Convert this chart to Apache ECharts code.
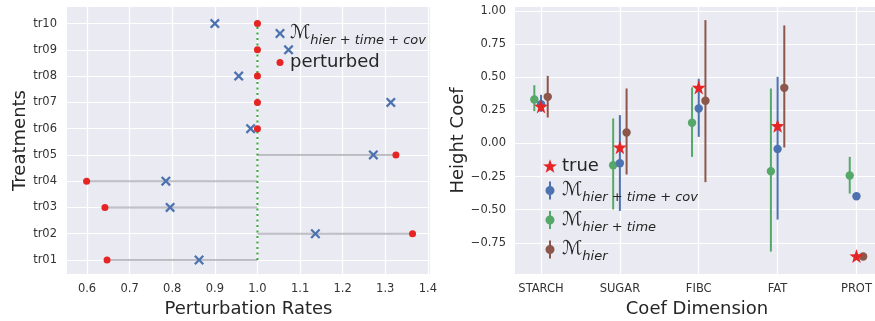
<!DOCTYPE html>
<html>
<head>
<meta charset="utf-8">
<script src="https://cdn.jsdelivr.net/npm/echarts@6/dist/echarts.min.js"></script>
<style>
html,body{margin:0;padding:0;background:#fff;}
#c{width:875px;height:321px;}
</style>
</head>
<body>
<div id="c"></div>
<script>
// ---------- Left panel data ----------
const treatments = ['tr01','tr02','tr03','tr04','tr05','tr06','tr07','tr08','tr09','tr10'];
const perturbedRates = [0.647, 1.364, 0.642, 0.599, 1.325, 1.0, 1.0, 1.0, 1.0, 1.0];
const hierTimeCovRates = [0.863, 1.136, 0.795, 0.785, 1.272, 0.984, 1.313, 0.956, 1.073, 0.900];
const baseRate = 1.0;
const rateTicks = [0.6, 0.7, 0.8, 0.9, 1.0, 1.1, 1.2, 1.3, 1.4];

// ---------- Right panel data ----------
const coefDims = ['STARCH','SUGAR','FIBC','FAT','PROT'];
const trueCoef = [0.28, -0.028, 0.423, 0.133, -0.85];
const covMean = [0.297, -0.149, 0.264, -0.041, -0.398];
const covLow  = [0.239, -0.509, 0.050, -0.574, -0.408];
const covHigh = [0.367, 0.214, 0.488, 0.503, -0.390];
const timeMean = [0.332, -0.164, 0.156, -0.209, -0.242];
const timeLow  = [0.244, -0.498, -0.101, -0.816, -0.378];
const timeHigh = [0.440, 0.189, 0.423, 0.415, -0.101];
const hierMean = [0.352, 0.083, 0.322, 0.420, -0.853];
const hierLow  = [0.196, -0.234, -0.292, -0.030, -0.862];
const hierHigh = [0.510, 0.415, 0.931, 0.891, -0.845];
const coefTicks = [-0.75, -0.5, -0.25, 0, 0.25, 0.5, 0.75, 1.0];

const BLUE = '#4C72B0', GREEN = '#55A868', BROWN = '#8C564B', RED = '#E62424';
const TXT = '#333333';
const FONT = 'DejaVu Sans';

const xPath = 'path://M0,1.6 L1.6,0 L5,3.4 L8.4,0 L10,1.6 L6.6,5 L10,8.4 L8.4,10 L5,6.6 L1.6,10 L0,8.4 L3.4,5 Z';
const dotPath = 'path://M0,0 M10,10 M1.5,5 A3.5,3.5 0 1 1 8.5,5 A3.5,3.5 0 1 1 1.5,5 Z';
const starPath = 'path://M10,0 L12.351,6.764 L19.511,6.910 L13.804,11.236 L15.878,18.090 L10,14 L4.122,18.090 L6.196,11.236 L0.489,6.910 L7.649,6.764 Z';
const ebPath = 'path://M3.5,0 h2 v18 h-2 z M0,9 a4.5,4.5 0 1 1 9,0 a4.5,4.5 0 1 1 -9,0 z';

const chart = echarts.init(document.getElementById('c'));

function errSeries(name, color, offset, mean, low, high) {
  return {
    name: name, type: 'custom', xAxisIndex: 1, yAxisIndex: 1, z: 3,
    itemStyle: {color: color, opacity: 1},
    encode: {x: 0, y: 1},
    data: coefDims.map((d, i) => [i + offset, mean[i], low[i], high[i]]),
    renderItem: function (params, api) {
      const x = api.value(0);
      const p = api.coord([x, api.value(1)]);
      const lo = api.coord([x, api.value(2)]);
      const hi = api.coord([x, api.value(3)]);
      return {
        type: 'group',
        children: [
          {type: 'line', shape: {x1: lo[0], y1: lo[1], x2: hi[0], y2: hi[1]},
           style: {stroke: color, lineWidth: 2}},
          {type: 'circle', shape: {cx: p[0], cy: p[1], r: 4.2}, style: {fill: color}}
        ]
      };
    }
  };
}

const labelNames = {
  lcov: '{m|ℳ}{s|hier + time + cov}',
  perturbed: '{t|perturbed}',
  'true': '{t|true}',
  cov: '{m|ℳ}{s|hier + time + cov}',
  time: '{m|ℳ}{s|hier + time}',
  hier: '{m|ℳ}{s|hier}'
};
const richStyles = {
  m: {fontSize: 19, fontFamily: FONT, color: '#262626', lineHeight: 22},
  s: {fontSize: 13, fontStyle: 'italic', fontFamily: FONT, color: '#262626', lineHeight: 22, verticalAlign: 'bottom', padding: [0, 0, -3, 0]},
  t: {fontSize: 18, fontFamily: FONT, color: '#262626', lineHeight: 22}
};

const option = {
  animation: false,
  backgroundColor: '#ffffff',
  textStyle: {fontFamily: FONT},
  grid: [
    {left: 67, top: 7, width: 363, height: 267, backgroundColor: '#EAEAF2', show: true, borderWidth: 0, outerBoundsMode: 'none', containLabel: false},
    {left: 515, top: 7, width: 364, height: 267, backgroundColor: '#EAEAF2', show: true, borderWidth: 0, outerBoundsMode: 'none', containLabel: false}
  ],
  xAxis: [
    {
      type: 'value', gridIndex: 0, min: 0.553, max: 1.405,
      axisLine: {show: false},
      axisTick: {show: false, customValues: rateTicks},
      axisLabel: {customValues: rateTicks, formatter: v => v.toFixed(1), color: TXT, fontSize: 11.5, margin: 9},
      splitLine: {show: true, lineStyle: {color: '#ffffff', width: 1.2}},
      name: 'Perturbation Rates', nameLocation: 'middle', nameGap: 21,
      nameTextStyle: {fontSize: 18, color: '#262626'}
    },
    {
      type: 'value', gridIndex: 1, min: -0.33, max: 4.286,
      axisLine: {show: false},
      axisTick: {show: false, customValues: [0, 1, 2, 3, 4]},
      axisLabel: {customValues: [0, 1, 2, 3, 4], formatter: v => coefDims[Math.round(v)], color: TXT, fontSize: 11.5, margin: 9},
      splitLine: {show: true, lineStyle: {color: '#ffffff', width: 1.2}},
      name: 'Coef Dimension', nameLocation: 'middle', nameGap: 21,
      nameTextStyle: {fontSize: 18, color: '#262626'}
    }
  ],
  yAxis: [
    {
      type: 'value', gridIndex: 0, min: 0.468, max: 10.63,
      axisLine: {show: false},
      axisTick: {show: false, customValues: [1,2,3,4,5,6,7,8,9,10]},
      axisLabel: {customValues: [1,2,3,4,5,6,7,8,9,10], formatter: v => treatments[Math.round(v) - 1], color: TXT, fontSize: 11.5, margin: 10},
      splitLine: {show: true, lineStyle: {color: '#ffffff', width: 1.2}},
      name: 'Treatments', nameLocation: 'middle', nameGap: 38,
      nameTextStyle: {fontSize: 18, color: '#262626'}
    },
    {
      type: 'value', gridIndex: 1, min: -0.985, max: 1.03,
      axisLine: {show: false},
      axisTick: {show: false, customValues: coefTicks},
      axisLabel: {customValues: coefTicks, formatter: v => v.toFixed(2).replace('-', '\u2212'), color: TXT, fontSize: 11.5, margin: 9},
      splitLine: {show: true, lineStyle: {color: '#ffffff', width: 1.2}},
      name: 'Height Coef', nameLocation: 'middle', nameGap: 46,
      nameTextStyle: {fontSize: 18, color: '#262626'}
    }
  ],
  legend: [
    {
      orient: 'vertical', left: 275, top: 24, padding: 0, itemGap: 6,
      itemWidth: 10, itemHeight: 10, itemStyle: {borderWidth: 0},
      data: [{name: 'lcov', icon: xPath}, {name: 'perturbed', icon: dotPath}],
      formatter: n => labelNames[n],
      textStyle: {rich: richStyles}
    },
    {
      orient: 'vertical', left: 543, top: 157, padding: 0, itemGap: 6,
      itemWidth: 14, itemHeight: 18, itemStyle: {borderWidth: 0},
      data: [{name: 'true', icon: starPath}, {name: 'cov', icon: ebPath}, {name: 'time', icon: ebPath}, {name: 'hier', icon: ebPath}],
      formatter: n => labelNames[n],
      textStyle: {rich: richStyles}
    }
  ],
  series: [
    {
      name: 'gap', type: 'custom', xAxisIndex: 0, yAxisIndex: 0, z: 1, silent: true,
      encode: {x: 0, y: 1},
      data: treatments.map((t, i) => [perturbedRates[i], i + 1]),
      renderItem: function (params, api) {
        const a = api.coord([baseRate, api.value(1)]);
        const b = api.coord([api.value(0), api.value(1)]);
        return {type: 'line', shape: {x1: a[0], y1: a[1], x2: b[0], y2: b[1]},
                style: {stroke: '#9a9aa0', lineWidth: 2, opacity: 0.6}};
      }
    },
    {
      name: 'base', type: 'line', xAxisIndex: 0, yAxisIndex: 0, z: 2, silent: true,
      symbol: 'none',
      data: [[baseRate, 1], [baseRate, treatments.length]],
      lineStyle: {color: '#33AA33', width: 2, type: [2, 3.5]}
    },
    {
      name: 'lcov', type: 'scatter', xAxisIndex: 0, yAxisIndex: 0, z: 3,
      symbol: xPath, symbolSize: 10, itemStyle: {color: BLUE, opacity: 1},
      data: treatments.map((t, i) => [hierTimeCovRates[i], i + 1])
    },
    {
      name: 'perturbed', type: 'scatter', xAxisIndex: 0, yAxisIndex: 0, z: 4,
      symbol: 'circle', symbolSize: 7, itemStyle: {color: RED, opacity: 1},
      data: treatments.map((t, i) => [perturbedRates[i], i + 1])
    },
    errSeries('time', GREEN, -0.085, timeMean, timeLow, timeHigh),
    errSeries('cov', BLUE, 0, covMean, covLow, covHigh),
    errSeries('hier', BROWN, 0.085, hierMean, hierLow, hierHigh),
    {
      name: 'true', type: 'scatter', xAxisIndex: 1, yAxisIndex: 1, z: 5,
      symbol: starPath, symbolSize: 14, itemStyle: {color: RED, opacity: 1},
      data: coefDims.map((d, i) => [i, trueCoef[i]])
    }
  ]
};
chart.setOption(option);
</script>
</body>
</html>
